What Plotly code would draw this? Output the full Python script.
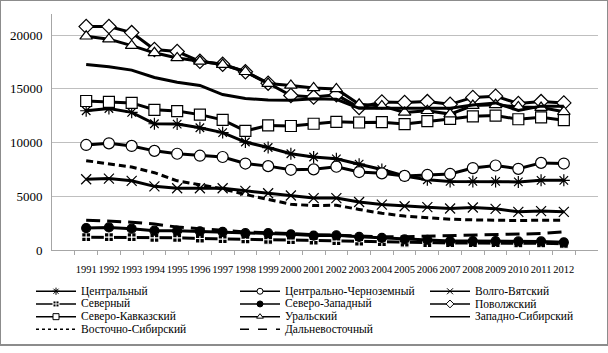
import plotly.graph_objects as go

years = [str(y) for y in range(1991, 2013)]

central = [12970, 13180, 12820, 11760, 11730, 11390, 10940, 10060, 9550, 8970, 8670,
           8500, 8000, 7500, 6900, 6550, 6400, 6400, 6400, 6350, 6500, 6500]
central_chern = [9790, 9940, 9700, 9240, 8970, 8790, 8670, 8060, 7820, 7480, 7520,
                 7760, 7270, 7150, 6910, 7000, 7090, 7640, 7880, 7570, 8120, 8060]
volgo_vyat = [6600, 6660, 6450, 5940, 5760, 5760, 5760, 5520, 5300, 5090, 4850,
              4850, 4480, 4240, 4090, 4000, 3880, 3970, 3850, 3570, 3640, 3570]
severny = [1210, 1210, 1210, 1150, 1150, 1090, 1030, 1000, 970, 940, 900,
           850, 800, 750, 700, 670, 670, 670, 670, 640, 640, 600]
severo_zap = [2060, 2120, 2000, 1820, 1820, 1760, 1700, 1580, 1580, 1480, 1360,
              1390, 1240, 1150, 1000, 970, 850, 850, 850, 820, 820, 730]
povolzh = [20800, 20800, 20240, 18670, 18480, 17570, 17300, 16600, 15540, 14390, 14240,
           14450, 13270, 13790, 13730, 13820, 13570, 14210, 14330, 13640, 13820, 13700]
sev_kavk = [13880, 13790, 13700, 13060, 12940, 12610, 12120, 11090, 11610, 11550, 11760,
            11940, 11880, 11910, 11730, 12000, 12210, 12450, 12520, 12180, 12360, 12090]
ural = [19900, 19630, 19030, 18360, 17880, 17570, 17270, 16600, 15500, 15330, 15090,
        15000, 13570, 13420, 12820, 12970, 12660, 13450, 13520, 13330, 13270, 12880]
zap_sib = [17270, 17060, 16750, 16060, 15630, 15330, 14480, 14120, 13970, 13940, 14090,
           14030, 13200, 13200, 13150, 13150, 13200, 13500, 13700, 13000, 13400, 13400]
vost_sib = [8330, 8030, 7730, 7210, 6450, 6090, 5700, 5180, 4730, 4270, 4150,
            4180, 3790, 3430, 3180, 3030, 2880, 2820, 2760, 2760, 2790, 2790]
dalnevost = [2790, 2730, 2610, 2430, 2150, 2000, 1820, 1700, 1630, 1520, 1450,
             1400, 1300, 1250, 1250, 1300, 1350, 1400, 1450, 1450, 1550, 1700]

y_ticks = [0, 5000, 10000, 15000, 20000]
y_tick_labels = ["0", "5000", "10000", "15000", "20000"]

names = ["Центральный", "Центрально-Черноземный", "Волго-Вятский",
         "Северный", "Северо-Западный", "Поволжский",
         "Северо-Кавказский", "Уральский", "Западно-Сибирский",
         "Восточно-Сибирский", "Дальневосточный"]
values = [central, central_chern, volgo_vyat, severny, severo_zap, povolzh,
          sev_kavk, ural, zap_sib, vost_sib, dalnevost]

# style per series: (symbol, size, fill, outline, dash)
styles = [
    ("asterisk-open", 10, "black", "black", "solid"),
    ("circle", 11, "white", "black", "solid"),
    ("x-thin-open", 10, "black", "#333", "solid"),
    ("square-cross", 9, "black", "white", "solid"),
    ("circle", 9, "black", "black", "solid"),
    ("diamond", 11, "white", "black", "solid"),
    ("square", 11, "white", "black", "solid"),
    ("triangle-up", 11, "white", "black", "solid"),
    (None, 0, "black", "black", "solid"),
    (None, 0, "black", "black", "7px,4px"),
    (None, 0, "black", "black", "14px,7px"),
]

FONT = "Liberation Serif"
W, H = 608, 353
PX0, PX1, PY0, PY1 = 52, 598, 14, 256

fig = go.Figure()
for name, vals, (sym, sz, fill, outline, dash) in zip(names, values, styles):
    if sym is None:
        fig.add_trace(go.Scatter(x=years, y=vals, mode="lines", name=name,
                                 line=dict(color="black", width=3, dash=dash),
                                 showlegend=False))
    else:
        fig.add_trace(go.Scatter(x=years, y=vals, mode="lines+markers", name=name,
                                 line=dict(color="black", width=3, dash=dash),
                                 marker=dict(symbol=sym, size=sz, color=fill,
                                             line=dict(color=outline, width=1.2)),
                                 showlegend=False))

# hand-drawn legend (3 columns, rows 13px apart) on a pixel-space overlay axis
col_x = [36, 240, 430]
row_y = [298, 311, 324, 337]
leg_dash = ["solid"] * 9 + ["dot", "dash"]
for i, (name, (sym, sz, fill, outline, dash)) in enumerate(zip(names, styles)):
    x0 = col_x[i % 3]
    y0 = row_y[i // 3]
    fig.add_trace(go.Scatter(x=[x0, x0 + 40], y=[y0, y0], mode="lines",
                             line=dict(color="black", width=1.5, dash=leg_dash[i]),
                             xaxis="x2", yaxis="y2", showlegend=False, hoverinfo="skip"))
    if sym is not None:
        fig.add_trace(go.Scatter(x=[x0 + 20], y=[y0], mode="markers",
                                 marker=dict(symbol=sym, size=6, color=fill,
                                             line=dict(color=outline, width=1)),
                                 xaxis="x2", yaxis="y2", showlegend=False, hoverinfo="skip"))
    fig.add_annotation(x=x0 + 43, y=y0, xref="x2", yref="y2", text=name,
                       showarrow=False, xanchor="left", yanchor="middle",
                       font=dict(family=FONT, size=11.5, color="black"))

fig.update_layout(
    width=W, height=H, autosize=False,
    margin=dict(l=0, r=0, t=0, b=0),
    paper_bgcolor="white", plot_bgcolor="rgba(0,0,0,0)",
    font=dict(family=FONT, color="black"),
    xaxis=dict(type="category", domain=[PX0 / W, PX1 / W],
               showline=True, linecolor="#a6a6a6", linewidth=1,
               ticks="outside", tickson="boundaries", ticklen=4, tickcolor="#a6a6a6",
               showgrid=False, tickangle=0, ticklabelstandoff=9,
               tickfont=dict(family=FONT, size=10.5, color="black"), fixedrange=True),
    yaxis=dict(domain=[1 - PY1 / H, 1 - PY0 / H], range=[0, 22000],
               tickvals=y_ticks, ticktext=y_tick_labels,
               showgrid=True, gridcolor="#bfbfbf", gridwidth=1,
               showline=True, linecolor="#a6a6a6", zeroline=False,
               ticklabelstandoff=6,
               tickfont=dict(family=FONT, size=13, color="black"), ticks="", fixedrange=True),
    xaxis2=dict(domain=[0, 1], range=[0, W], visible=False, anchor="y2", fixedrange=True),
    yaxis2=dict(domain=[0, 1], range=[H, 0], visible=False, anchor="x2", fixedrange=True),
    shapes=[dict(type="rect", xref="paper", yref="paper", x0=0, y0=0, x1=1, y1=1,
                 line=dict(color="#8c8c8c", width=2), fillcolor="rgba(0,0,0,0)")],
)

fig.write_html("out.html")
